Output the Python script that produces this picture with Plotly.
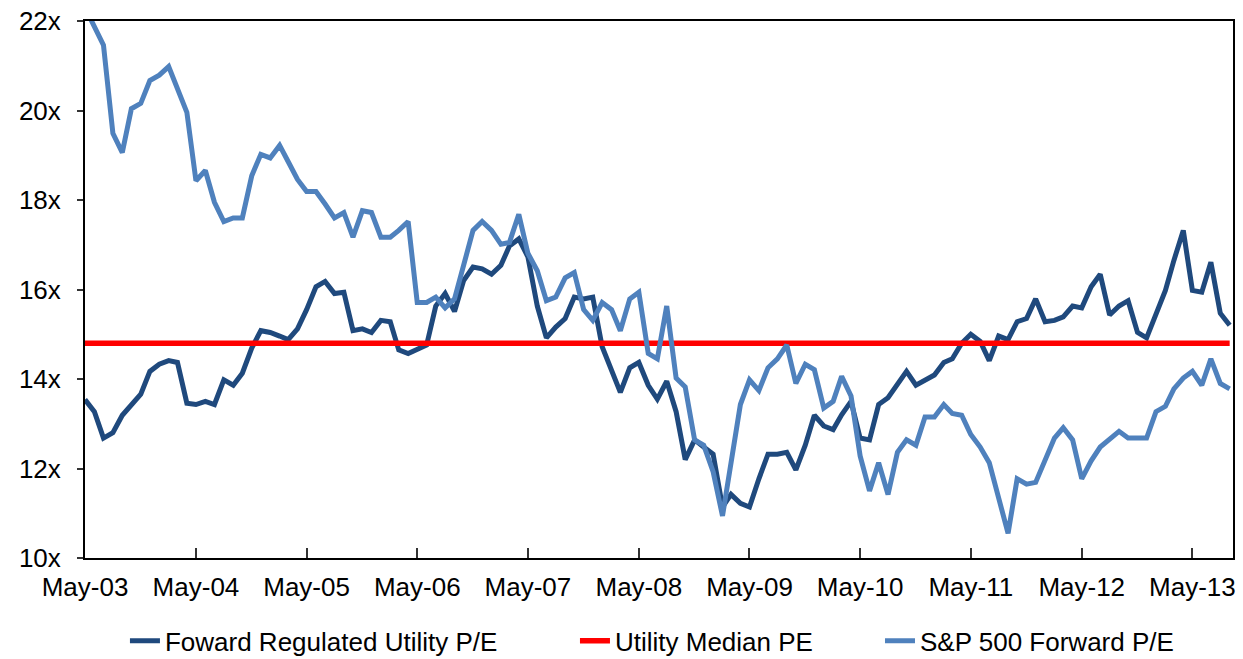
import pandas as pd
import plotly.graph_objects as go

# Monthly observations, May-2003 .. Sep-2013
utility_pe = [
    13.54, 13.27, 12.68, 12.80, 13.19, 13.43, 13.66, 14.17, 14.33, 14.41, 14.37, 13.46,
    13.43, 13.50, 13.43, 13.98, 13.86, 14.13, 14.69, 15.08, 15.04, 14.96, 14.88, 15.12,
    15.55, 16.06, 16.18, 15.91, 15.94, 15.08, 15.12, 15.04, 15.31, 15.28, 14.65, 14.57,
    14.65, 14.76, 15.63, 15.91, 15.51, 16.20, 16.50, 16.46, 16.34, 16.54, 16.97, 17.13,
    16.73, 15.63, 14.92, 15.16, 15.35, 15.83, 15.79, 15.83, 14.72, 14.21, 13.70, 14.25,
    14.37, 13.86, 13.55, 13.95, 13.27, 12.20, 12.64, 12.48, 12.32, 11.14, 11.42, 11.22,
    11.14, 11.77, 12.32, 12.32, 12.36, 11.97, 12.52, 13.19, 12.95, 12.87, 13.20, 13.50,
    12.68, 12.64, 13.43, 13.58, 13.86, 14.17, 13.86, 13.98, 14.09, 14.37, 14.45, 14.80,
    15.00, 14.84, 14.41, 14.96, 14.88, 15.28, 15.35, 15.79, 15.28, 15.31, 15.39, 15.63,
    15.59, 16.06, 16.34, 15.43, 15.63, 15.75, 15.04, 14.92, 15.45, 15.98, 16.65, 17.32,
    15.98, 15.94, 16.61, 15.47, 15.20,
]

sp500_pe = [
    22.30, 21.90, 21.46, 19.49, 19.06, 20.04, 20.16, 20.67, 20.79, 20.98, 20.51, 19.96,
    18.43, 18.66, 17.95, 17.52, 17.60, 17.60, 18.54, 19.02, 18.94, 19.22, 18.86, 18.46,
    18.19, 18.19, 17.91, 17.60, 17.72, 17.17, 17.76, 17.72, 17.17, 17.17, 17.32, 17.52,
    15.71, 15.71, 15.83, 15.59, 15.79, 16.50, 17.32, 17.52, 17.32, 17.01, 17.05, 17.68,
    16.81, 16.42, 15.75, 15.83, 16.26, 16.38, 15.55, 15.31, 15.71, 15.55, 15.08, 15.79,
    15.94, 14.57, 14.45, 15.63, 14.02, 13.82, 12.64, 12.52, 11.93, 10.94, 12.05, 13.43,
    13.98, 13.74, 14.25, 14.45, 14.76, 13.90, 14.33, 14.21, 13.35, 13.50, 14.06, 13.62,
    12.28, 11.50, 12.13, 11.42, 12.36, 12.64, 12.52, 13.15, 13.15, 13.43, 13.23, 13.19,
    12.76, 12.48, 12.13, 11.38, 10.55, 11.77, 11.65, 11.69, 12.20, 12.68, 12.91, 12.64,
    11.77, 12.17, 12.48, 12.64, 12.83, 12.68, 12.68, 12.68, 13.27, 13.39, 13.78, 14.02,
    14.17, 13.86, 14.45, 13.90, 13.78,
]

utility_median_value = 14.8

dates = pd.date_range("2003-05-01", periods=len(utility_pe), freq="MS")
utility_median = [utility_median_value] * len(dates)

series_names = ["Foward Regulated Utility P/E", "Utility Median PE", "S&P 500 Forward P/E"]
y_ticks = [10, 12, 14, 16, 18, 20, 22]
y_tick_labels = [f"{v}x" for v in y_ticks]

DARK = "#1F497D"
RED = "#FF0000"
LIGHT = "#4F81BD"
FONT = "Liberation Sans, Arial, sans-serif"

fig = go.Figure()
fig.add_trace(go.Scatter(x=dates, y=utility_pe, mode="lines", name=series_names[0],
                         line=dict(color=DARK, width=5), legend="legend", showlegend=True))
fig.add_trace(go.Scatter(x=dates, y=utility_median, mode="lines", name=series_names[1],
                         line=dict(color=RED, width=5.5), legend="legend2", showlegend=True))
fig.add_trace(go.Scatter(x=dates, y=sp500_pe, mode="lines", name=series_names[2],
                         line=dict(color=LIGHT, width=5), legend="legend3", showlegend=True))

legend_common = dict(orientation="h", yanchor="middle", y=-0.1545, xanchor="left",
                     bgcolor="rgba(0,0,0,0)", borderwidth=0, visible=True,
                     font=dict(family=FONT, size=26, color="black"))

fig.update_layout(
    width=1243, height=659,
    margin=dict(l=85, r=10, t=21, b=101, autoexpand=False),
    showlegend=True,
    plot_bgcolor="white", paper_bgcolor="white",
    font=dict(family=FONT, size=26, color="black"),
    legend=dict(x=0.0348, **legend_common),
    legend2=dict(x=0.4268, **legend_common),
    legend3=dict(x=0.6925, **legend_common),
    xaxis=dict(
        type="date",
        range=["2003-05-01", "2013-09-12"],
        tick0="2003-05-01", dtick="M12", tickformat="%b-%y",
        ticks="inside", ticklen=10, tickwidth=1.5, tickcolor="#333",
        showgrid=False, zeroline=False,
        showline=True, linecolor="black", linewidth=2, mirror=True,
        ticklabelstandoff=5,
        tickfont=dict(family=FONT, size=26, color="black"),
    ),
    yaxis=dict(
        range=[10, 22], tickmode="array", tickvals=y_ticks, ticktext=y_tick_labels,
        ticks="outside", ticklen=6, tickwidth=1.5, tickcolor="#333",
        showgrid=False, zeroline=False,
        showline=True, linecolor="black", linewidth=2, mirror=True,
        ticklabelstandoff=11,
        tickfont=dict(family=FONT, size=26, color="black"),
    ),
)

fig.write_html("out.html")
